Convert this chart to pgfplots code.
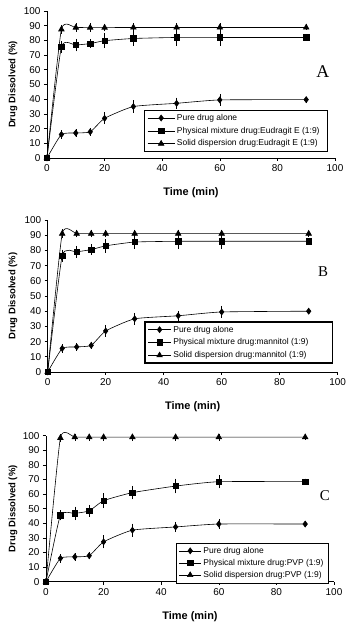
\documentclass[border=0pt]{standalone}
\usepackage{fontspec}
\setmainfont{Liberation Sans}
\newfontfamily\tnr{Liberation Serif}
\usepackage{pgfplots}
\pgfplotsset{compat=1.18}

\pgfplotsset{
 panel/.style={
   scale only axis,
   xmin=0,xmax=100,ymin=0,ymax=100,
   axis lines=left, axis line style={-, line width=0.8pt},
   xtick={0,20,...,100}, ytick={0,10,...,100},
   tick align=outside, major tick length=3bp,
   tick style={black, line width=0.6pt},
   tick label style={font=\fontsize{10}{11}\selectfont},
   /pgf/number format/assume math mode=true,
   xlabel={\textbf{Time (min)}}, ylabel={\textbf{Drug Dissolved (\%)}},
   xlabel style={font=\fontsize{11}{12}\selectfont, anchor=center},
   ylabel style={font=\fontsize{9.5}{11}\selectfont, anchor=center},
   clip=false,
   legend cell align=left,
   legend style={font=\fontsize{8.5}{9.5}\selectfont, anchor=north west, draw=black, line width=0.6pt, inner xsep=3bp, inner ysep=2bp, row sep=1.2bp},
 },
 ser/.style={black, line width=0.6pt, smooth, tension=0.3, mark options={solid, fill=black},
   error bars/.cd, y dir=both, y explicit, error bar style={line width=0.6pt}, error mark options={mark size=3bp, line width=0.6pt}},
 dia/.style={mark=diamond*, mark size=3bp},
 sq/.style={mark=square*, mark size=2.7bp},
 tri/.style={mark=triangle*, mark size=3.2bp},
}

\begin{document}
\begin{tikzpicture}
\useasboundingbox (0,0) rectangle (351bp,628bp);

% ---------- Panel A ----------
\begin{axis}[panel, at={(47bp,470bp)}, anchor=south west, width=288bp, height=147bp,
  xlabel style={at={(axis description cs:0.5,-0.238)}},
  ylabel style={at={(axis description cs:-0.118,0.5)}},
  legend style={at={(0.337,0.327)}},
  legend image code/.code={\draw[mark repeat=2,mark phase=2] plot coordinates {(0bp,0bp) (13.5bp,0bp) (27bp,0bp)};}]
\addplot[dia, ser] table[x=t, y=v, y error=e] {
t v e
0 0 0
5 16 0.8
10 17 0.5
15 17.8 0.5
20 27 2
30 35 2.3
45 37.2 1.8
60 39.5 1.8
90 39.7 0
};
\addlegendentry{\makebox[145bp][l]{Pure drug alone}}
\addplot[sq, ser] table[x=t, y=v, y error=e] {
t v e
0 0 0
5 75.5 2
10 76.8 2.2
15 77.8 1
20 79.8 3
30 81.3 2.8
45 82 3.5
60 82 3.5
90 82 0
};
\addlegendentry{Physical mixture drug:Eudragit E (1:9)}
\addplot[tri, ser] table[x=t, y=v, y error=e] {
t v e
0 0 0
5 87.5 1
10 88.7 0.8
15 88.7 0.8
20 88.7 0.5
30 88.8 0.8
45 88.8 0.8
60 88.8 0.8
90 88.8 0
};
\addlegendentry{Solid dispersion drug:Eudragit E (1:9)}
\node[font=\tnr\fontsize{18}{18}\selectfont] at (axis cs:95.8,58.5) {A};
\end{axis}

% ---------- Panel B ----------
\begin{axis}[panel, at={(47.7bp,256bp)}, anchor=south west, width=290bp, height=152bp,
  xlabel style={at={(axis description cs:0.5,-0.228)}},
  ylabel style={at={(axis description cs:-0.12,0.5)}},
  legend style={at={(0.332,0.335)}, line width=1.6pt},
  legend image code/.code={\draw[line width=0.6pt, mark repeat=2,mark phase=2] plot coordinates {(0bp,0bp) (11.5bp,0bp) (23bp,0bp)};}]
\addplot[dia, ser] table[x=t, y=v, y error=e] {
t v e
0 0 0
5 15.5 0.8
10 16.5 0.5
15 17.5 0.5
20 27 2
30 35 2
45 37 1.2
60 39.5 2
90 40 0
};
\addlegendentry{\makebox[154bp][l]{Pure drug alone}}
\addplot[sq, ser] table[x=t, y=v, y error=e] {
t v e
0 0 0
5 76.5 2
10 79 2
15 80.5 1.5
20 83 2.5
30 85.5 2.5
45 86 3
60 86 3
90 86 0
};
\addlegendentry{Physical mixture drug:mannitol (1:9)}
\addplot[tri, ser] table[x=t, y=v, y error=e] {
t v e
0 0 0
5 91 1
10 91 0.5
15 91 0.5
20 91 0.5
30 91 0.5
45 91 0.5
60 91 0.5
90 91 0
};
\addlegendentry{Solid dispersion drug:mannitol (1:9)}
\node[font=\tnr\fontsize{15}{15}\selectfont] at (axis cs:95,66) {B};
\end{axis}

% ---------- Panel C ----------
\begin{axis}[panel, at={(46bp,46.3bp)}, anchor=south west, width=288bp, height=146bp,
  xlabel style={at={(axis description cs:0.5,-0.24)}},
  ylabel style={at={(axis description cs:-0.115,0.5)}},
  legend style={at={(0.45,0.267)}, row sep=0.5bp},
  legend image code/.code={\draw[mark repeat=2,mark phase=2] plot coordinates {(0bp,0bp) (11bp,0bp) (22bp,0bp)};}]
\addplot[dia, ser] table[x=t, y=v, y error=e] {
t v e
0 0 0
5 16 0.8
10 17 0.5
15 17.8 0.5
20 27.3 2.5
30 35.3 2.5
45 37.5 1.5
60 39.5 1.5
90 39.5 0
};
\addlegendentry{\makebox[120bp][l]{Pure drug alone}}
\addplot[sq, ser] table[x=t, y=v, y error=e] {
t v e
0 0 0
5 45.5 1.5
10 46.8 2.5
15 48.5 2
20 55.5 3
30 61 2.5
45 65.5 3
60 68.5 2.5
90 68.5 0
};
\addlegendentry{Physical mixture drug:PVP (1:9)}
\addplot[tri, ser] table[x=t, y=v, y error=e] {
t v e
0 0 0
5 98.5 0.5
10 99 0.3
15 99 0.3
20 99 0.3
30 99 0.3
45 99 0.3
60 99 0.3
90 99 0
};
\addlegendentry{Solid dispersion drug:PVP (1:9)}
\node[font=\tnr\fontsize{15}{15}\selectfont] at (axis cs:96.8,59) {C};
\end{axis}
\end{tikzpicture}
\end{document}
